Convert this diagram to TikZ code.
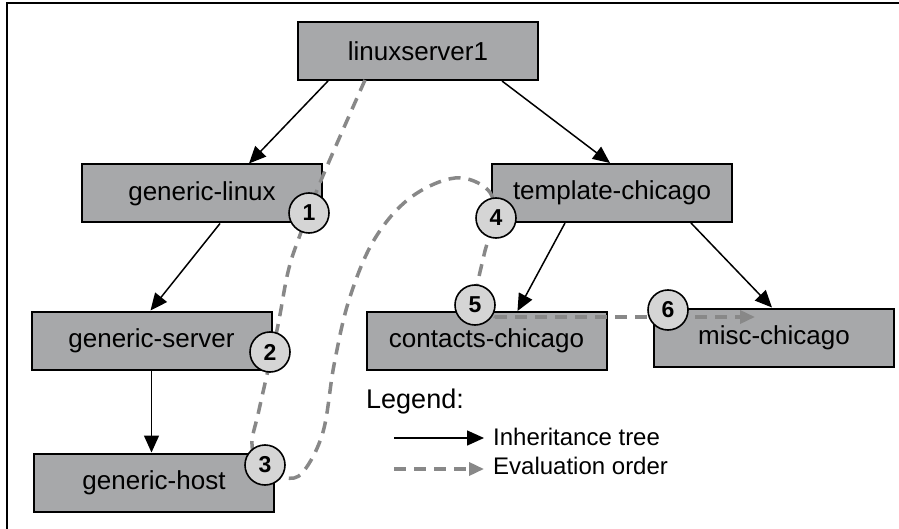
\documentclass[tikz,border=0pt]{standalone}
\usepackage{fontspec}
\setmainfont{Liberation Sans}
\usetikzlibrary{arrows.meta,calc}
\definecolor{boxgray}{HTML}{A7A8AA}
\definecolor{circgray}{HTML}{D5D5D5}
\definecolor{evalgray}{HTML}{888888}
\tikzset{
  box/.style={draw=black, fill=boxgray, line width=2pt, minimum width=240pt, minimum height=58pt, inner sep=0pt, font=\fontsize{26}{30}\selectfont},
  inh/.style={draw=black, line width=1.5pt, -{Triangle[length=17pt,width=15pt]}},
  evalline/.style={draw=evalgray, line width=3.5pt, dash pattern=on 12pt off 8pt},
  evalarrow/.style={evalline, -{Triangle[length=15pt,width=13pt]}},
  num/.style={circle, draw=black, fill=circgray, line width=1.6pt, minimum size=40pt, inner sep=0pt, font=\fontsize{23}{26}\selectfont\bfseries},
  legtext/.style={anchor=west, inner sep=0pt, font=\fontsize{24}{28}\selectfont},
}
\begin{document}
\begin{tikzpicture}[x=1pt,y=-1pt]
\useasboundingbox (0,0) rectangle (899,529);
\fill[white] (0,0) rectangle (899,529);
% frame
\draw[line width=2.2pt] (7,540) -- (7,3) -- (910,3);

% boxes
\node[box] (ls) at (418,51) {linuxserver1};
\node[box] (gl) at (202,193.5) {generic-linux};
\node[box] (tc) at (612,193) {template-chicago};
\node[box] (gs) at (151.5,340.5) {generic-server};
\node[box] (gh) at (154,482.5) {generic-host};
\node[box] (cc) at (486.5,341) {contacts-chicago};
\node[box] (mc) at (774,337.5) {misc-chicago};

% inheritance arrows
\draw[inh] ([xshift=31pt]ls.south west) -- ([xshift=168pt]gl.north west);
\draw[inh] ([xshift=205pt]ls.south west) -- ([xshift=119pt]tc.north west);
\draw[inh] ([xshift=139pt]gl.south west) -- ([xshift=120pt]gs.north west);
\draw[inh] (gs.south) -- (gs.south |- gh.north);
\draw[inh] ([xshift=74pt]tc.south west) -- ([xshift=152pt]cc.north west);
\draw[inh] ([xshift=200pt]tc.south west) -- ([xshift=119pt]mc.north west);

% evaluation order path
\coordinate (p0) at (365,80);
\coordinate (p1) at (322,178);
\coordinate (p2) at (300,235);
\coordinate (p3) at (288,272);
\coordinate (p4) at (277,330);
\coordinate (p5) at (259,410);
\coordinate (p6) at (252,445);
\coordinate (p6b) at (262,470);
\coordinate (p7) at (285,478);
\coordinate (p8) at (303,472);
\coordinate (p9) at (323,432);
\coordinate (p10) at (334,365);
\coordinate (p11) at (349,300);
\coordinate (p12) at (374,240);
\coordinate (p13) at (410,198);
\coordinate (p14) at (455,178);
\coordinate (p15) at (488,190);
\coordinate (p16) at (494,218);
\coordinate (p17) at (484,255);
\coordinate (p18) at (477,298);
\coordinate (p19) at (495,317);
\coordinate (pend) at (755,317);
\draw[evalline] plot[smooth, tension=0.6] coordinates {(p0) (p1) (p2) (p3) (p4) (p5) (p6) (p6b) (p7) (p8) (p9) (p10) (p11) (p12) (p13) (p14) (p15) (p16) (p17) (p18) (p19)};
\draw[evalarrow] (p19) -- (pend);

% numbered circles
\node[num] (n1) at (309,213) {1};
\node[num] (n2) at (270,352) {2};
\node[num] (n3) at (265,465) {3};
\node[num] (n4) at (496,218) {4};
\node[num] (n5) at (475,305) {5};
\node[num] (n6) at (668,310) {6};

% legend
\node[anchor=west, inner sep=0pt, font=\fontsize{27}{30}\selectfont] (lg) at (366,402) {Legend:};
\coordinate (l1a) at (394,438);
\coordinate (l1b) at (484,438);
\coordinate (l2a) at (394,469);
\coordinate (l2b) at (484,469);
\draw[inh] (l1a) -- (l1b);
\draw[evalarrow] (l2a) -- (l2b);
\node[legtext] (lt1) at (493,437) {Inheritance tree};
\node[legtext] (lt2) at (493,466) {Evaluation order};
\end{tikzpicture}
\end{document}
